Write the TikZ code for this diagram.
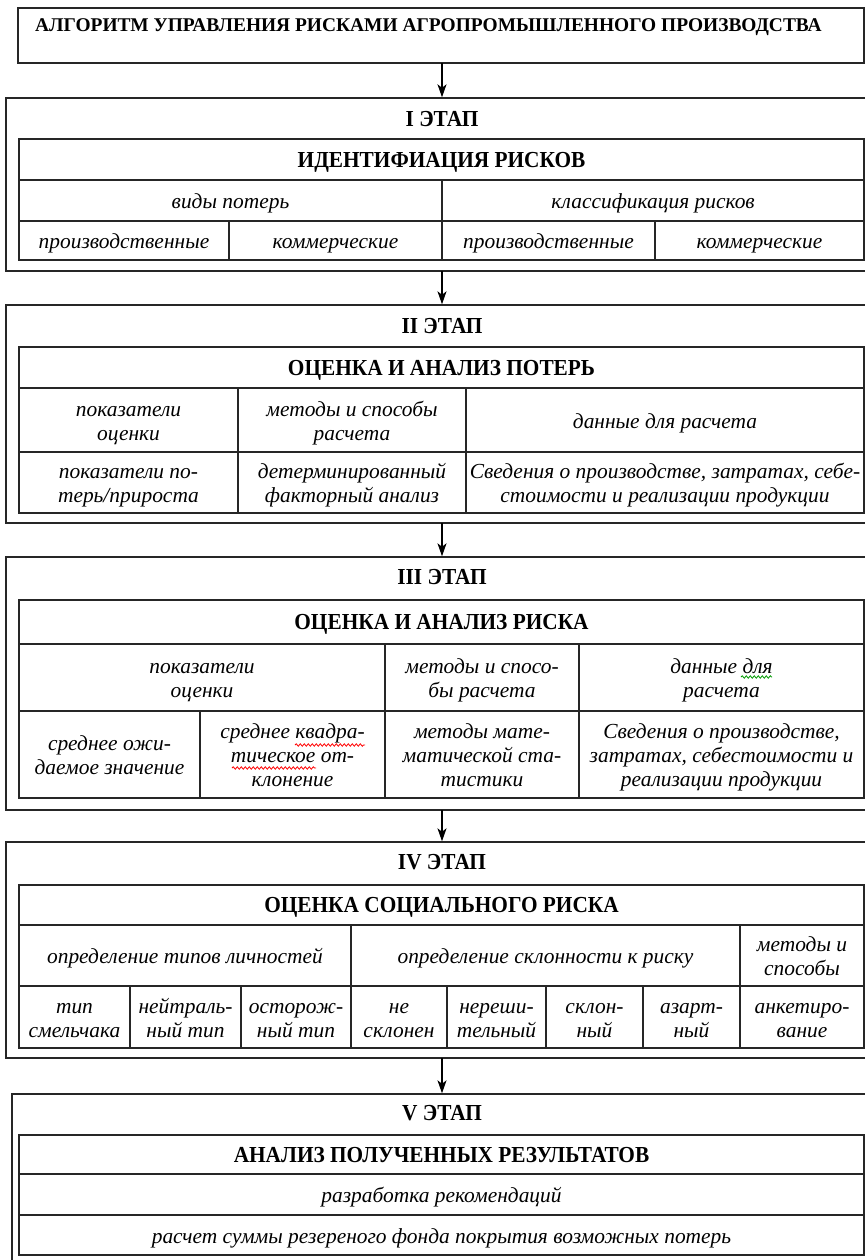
\documentclass[tikz,border=0pt]{standalone}
\usepackage{fontspec}
\setmainfont{Liberation Serif}
\newfontfamily\hdfont[FakeStretch=0.93]{Liberation Serif}
\usetikzlibrary{arrows.meta,decorations.pathmorphing}
\tikzset{
  boxline/.style={draw=black!85, line width=1.4bp},
  cellst/.style={boxline, inner sep=0pt, align=center, font=\fontsize{21.5}{24}\selectfont\itshape},
  headcell/.style={boxline, inner sep=0pt, align=center, font=\hdfont\fontsize{23}{26}\selectfont\bfseries, text height=15.2bp, text depth=0pt},
  stagehead/.style={inner sep=0pt, font=\hdfont\fontsize{23}{26}\selectfont\bfseries, text height=15.2bp, text depth=0pt},
  titlest/.style={inner sep=0pt, font=\fontsize{19.5}{23}\selectfont\bfseries, text height=12.9bp, text depth=0pt},
  outerbox/.style={boxline, inner sep=0pt},
  arr/.style={draw=black, line width=1.3bp, -{Stealth[length=13bp,width=9bp,inset=3.5bp]}},
  wave/.style={line width=0.8bp, decorate, decoration={snake, amplitude=1.2bp, segment length=4bp}}
}
\newcommand\cellbox[7][cellst]{%
  \pgfmathsetmacro\cw{#5-#3}\pgfmathsetmacro\ch{#6-#4}%
  \node[#1, minimum width=\cw bp, minimum height=\ch bp] (#2) at ({(#3+#5)/2},{(#4+#6)/2}) {#7};}
\newcommand\icell[6]{\cellbox{#1}{#2}{#3}{#4}{#5}{\rule{0pt}{23.5bp}#6\strut}}
\begin{document}
\begin{tikzpicture}[x=1bp,y=-1bp]
\useasboundingbox (0,0) rectangle (865,1260);
% title
\cellbox[outerbox]{title}{18}{8}{864}{63}{}
\node[titlest, anchor=west] (titletext) at (35,25) {АЛГОРИТМ УПРАВЛЕНИЯ РИСКАМИ АГРОПРОМЫШЛЕННОГО ПРОИЗВОДСТВА};
% stage I
\cellbox[outerbox]{s1}{6}{98}{875}{271}{}
\node[stagehead] (h1) at (442,119) {I ЭТАП};
\cellbox[headcell]{t1h}{19}{139}{864}{180}{ИДЕНТИФИАЦИЯ РИСКОВ}
\icell{t1a}{19}{180}{442}{221}{виды потерь}
\icell{t1b}{442}{180}{864}{221}{классификация рисков}
\icell{t1c}{19}{221}{229}{260}{производственные}
\icell{t1d}{229}{221}{442}{260}{коммерческие}
\icell{t1e}{442}{221}{655}{260}{производственные}
\icell{t1f}{655}{221}{864}{260}{коммерческие}
% stage II
\cellbox[outerbox]{s2}{6}{305}{875}{523}{}
\node[stagehead] (h2) at (442,326) {II ЭТАП};
\cellbox[headcell]{t2h}{19}{347}{864}{388}{ОЦЕНКА И АНАЛИЗ ПОТЕРЬ}
\icell{t2a}{19}{388}{238}{452}{показатели\\оценки}
\icell{t2b}{238}{388}{466}{452}{методы и способы\\расчета}
\icell{t2c}{466}{388}{864}{452}{данные для расчета}
\icell{t2d}{19}{452}{238}{513}{показатели по-\\терь/прироста}
\icell{t2e}{238}{452}{466}{513}{детерминированный\\факторный анализ}
\icell{t2f}{466}{452}{864}{513}{Сведения о производстве, затратах, себе-\\стоимости и реализации продукции}
% stage III
\cellbox[outerbox]{s3}{6}{557}{875}{810}{}
\node[stagehead] (h3) at (442,577) {III ЭТАП};
\cellbox[headcell]{t3h}{19}{600}{864}{644}{ОЦЕНКА И АНАЛИЗ РИСКА}
\icell{t3a}{19}{644}{385}{711}{показатели\\оценки}
\icell{t3b}{385}{644}{579}{711}{методы и спосо-\\бы расчета}
\icell{t3c}{579}{644}{864}{711}{данные для\\расчета}
\icell{t3d}{19}{711}{200}{798}{среднее ожи-\\даемое значение}
\icell{t3e}{200}{711}{385}{798}{среднее квадра-\\тическое от-\\клонение}
\icell{t3f}{385}{711}{579}{798}{методы мате-\\матической ста-\\тистики}
\icell{t3g}{579}{711}{864}{798}{Сведения о производстве,\\затратах, себестоимости и\\реализации продукции}
% spell-check underlines
\draw[wave, red] (295,745) -- (365,745);
\draw[wave, red] (232,768) -- (316,768);
\draw[wave, green!60!black] (741,677) -- (772,677);
% stage IV
\cellbox[outerbox]{s4}{6}{842}{875}{1058}{}
\node[stagehead] (h4) at (442,862) {IV ЭТАП};
\cellbox[headcell]{t4h}{19}{885}{864}{925}{ОЦЕНКА СОЦИАЛЬНОГО РИСКА}
\icell{t4a}{19}{925}{351}{986}{определение типов личностей}
\icell{t4b}{351}{925}{740}{986}{определение склонности к риску}
\icell{t4c}{740}{925}{864}{986}{методы и\\способы}
\icell{t4d}{19}{986}{130}{1048}{тип\\смельчака}
\icell{t4e}{130}{986}{241}{1048}{нейтраль-\\ный тип}
\icell{t4f}{241}{986}{351}{1048}{осторож-\\ный тип}
\icell{t4g}{351}{986}{447}{1048}{не\\склонен}
\icell{t4h2}{447}{986}{546}{1048}{нереши-\\тельный}
\icell{t4i}{546}{986}{643}{1048}{склон-\\ный}
\icell{t4j}{643}{986}{740}{1048}{азарт-\\ный}
\icell{t4k}{740}{986}{864}{1048}{анкетиро-\\вание}
% stage V
\cellbox[outerbox]{s5}{12}{1094}{875}{1275}{}
\node[stagehead] (h5) at (442,1113) {V ЭТАП};
\cellbox[headcell]{t5h}{19}{1135}{864}{1174}{АНАЛИЗ ПОЛУЧЕННЫХ РЕЗУЛЬТАТОВ}
\icell{t5a}{19}{1174}{864}{1215}{разработка рекомендаций}
\icell{t5b}{19}{1215}{864}{1255}{расчет суммы резереного фонда покрытия возможных потерь}
% arrows
\coordinate (a1) at (442,63);
\draw[arr] (a1) -- (a1 |- s1.north);
\coordinate (a2) at (442,271);
\draw[arr] (a2) -- (a2 |- s2.north);
\coordinate (a3) at (442,523);
\draw[arr] (a3) -- (a3 |- s3.north);
\coordinate (a4) at (442,810);
\draw[arr] (a4) -- (a4 |- s4.north);
\coordinate (a5) at (442,1058);
\draw[arr] (a5) -- (a5 |- s5.north);
\end{tikzpicture}
\end{document}
